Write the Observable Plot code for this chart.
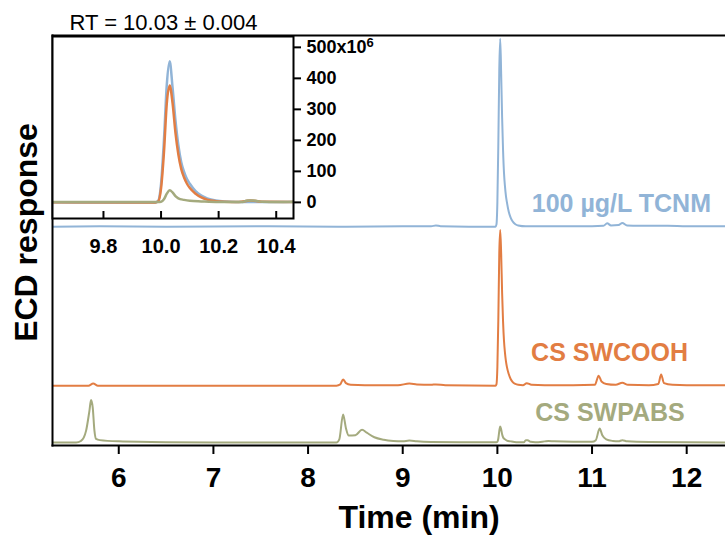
<!DOCTYPE html>
<html><head><meta charset="utf-8">
<script src="https://cdn.jsdelivr.net/npm/d3@7"></script>
<script src="https://cdn.jsdelivr.net/npm/@observablehq/plot@0.6"></script>
<style>
body{margin:0;background:#fff;}
#wrap{position:relative;width:725px;height:535px;font-family:"Liberation Sans",Arial,sans-serif;}
#wrap svg{position:absolute;left:0;top:0;}
</style></head><body><div id="wrap"></div>
<script>
// ---- data ----
const seriesNames = ["100 µg/L TCNM", "CS SWCOOH", "CS SWPABS"];
const seriesColors = ["#91b4d7", "#e27d43", "#a4aa7e"];
const seriesOffsets = [523, 138, 0];          // vertical stacking offset (response units, x10^6)
const labelTimes = [11.31, 11.185, 11.19];    // label centre (min)
const labelHeights = [56, 78, 72];            // label height above trace baseline
const xTicks = [6, 7, 8, 9, 10, 11, 12];
const insetXTicks = [9.8, 10.0, 10.2, 10.4];
const insetYTicks = [0, 100, 200, 300, 400, 500];
const insetTitle = "RT = 10.03 ± 0.004";

// [time (min), ECD response (x10^6)]
const tcnm = [[5.30,0],[5.80,1],[6.50,0],[7.50,1],[8.40,0],[9.00,1],[9.30,1],[9.35,3],[9.40,1],[9.70,0],[9.98,0],[9.99,5],[10.00,60],[10.01,200],[10.02,380],[10.03,455],[10.04,370],[10.05,265],[10.06,185],[10.07,130],[10.08,98],[10.09,75],[10.10,60],[10.12,36],[10.14,22],[10.16,13],[10.19,6],[10.22,3],[10.30,1],[10.50,1],[11.00,1],[11.12,2],[11.16,8],[11.20,3],[11.28,4],[11.32,9],[11.37,3],[11.50,2],[11.80,2],[12.00,1],[12.41,1]];
const swcooh = [[5.30,0],[5.68,0],[5.73,5],[5.78,0],[6.50,0],[7.50,0],[8.30,0],[8.34,3],[8.37,15],[8.40,6],[8.45,2],[8.60,1],[8.95,1],[9.07,5],[9.15,3],[9.30,2],[9.35,3],[9.45,1],[9.98,0],[9.99,3],[10.00,45],[10.01,160],[10.02,320],[10.03,377],[10.04,320],[10.05,225],[10.06,155],[10.07,108],[10.08,80],[10.09,60],[10.10,46],[10.12,28],[10.14,16],[10.16,9],[10.19,4],[10.22,2],[10.27,1],[10.31,6],[10.36,2],[10.50,1],[10.80,1],[11.03,2],[11.07,24],[11.10,10],[11.15,4],[11.25,2],[11.32,7],[11.38,2],[11.60,1],[11.70,4],[11.73,27],[11.76,6],[11.85,2],[12.00,1],[12.41,1]];
const swpabs = [[5.30,0],[5.55,0],[5.60,4],[5.63,12],[5.655,29],[5.69,77],[5.707,103],[5.725,85],[5.743,29],[5.76,9],[5.80,6],[6.00,3],[6.50,1],[7.00,0.5],[8.30,0.5],[8.33,8],[8.37,68],[8.40,35],[8.43,17],[8.50,18],[8.57,31],[8.62,24],[8.70,13],[8.80,7],[8.90,4],[9.00,3],[9.07,5],[9.15,3],[9.30,1.5],[9.60,1],[9.99,1],[10.00,2],[10.01,10],[10.02,28],[10.03,39],[10.04,32],[10.05,20],[10.06,13],[10.08,8],[10.10,5],[10.14,3],[10.20,1],[10.28,1],[10.30,6],[10.32,6],[10.35,2],[10.40,1],[10.50,3],[10.54,4],[10.60,3],[10.80,2],[11.00,2],[11.04,6],[11.08,34],[11.11,17],[11.15,8],[11.22,4],[11.28,3],[11.32,6],[11.37,3],[11.60,1.5],[12.00,1],[12.41,0.5]];
const traces = [tcnm, swcooh, swpabs];

// ---- build ----
const FONT = "Liberation Sans, Arial, Helvetica, sans-serif";
const mainLines = traces.map((tr, i) =>
  Plot.line(tr.map(([t, v]) => ({t, y: v + seriesOffsets[i]})),
    {x: "t", y: "y", stroke: seriesColors[i], strokeWidth: 2, curve: "monotone-x", clip: true}));
const labels = seriesNames.map((name, i) => ({name, t: labelTimes[i], y: seriesOffsets[i] + labelHeights[i], color: seriesColors[i]}));

const main = Plot.plot({
  width: 725, height: 535,
  marginLeft: 52, marginRight: 0, marginTop: 35, marginBottom: 90,
  style: {fontFamily: FONT, background: "transparent", overflow: "visible", color: "black"},
  x: {domain: [5.3, 12.41]},
  y: {domain: [-7, 986], axis: null},
  marks: [
    ...mainLines,
    ...labels.map(l => Plot.text([l], {x: "t", y: "y", text: "name", fill: l.color, fontSize: 25, fontWeight: "bold"})),
    Plot.axisX({ticks: xTicks, tickSize: 9, tickPadding: 13, fontSize: 28, fontWeight: "bold", strokeWidth: 2, label: null}),
    Plot.frame({anchor: "top", strokeWidth: 2}),
    Plot.frame({anchor: "left", strokeWidth: 2}),
    Plot.frame({anchor: "bottom", strokeWidth: 2}),
    Plot.text(["Time (min)"], {frameAnchor: "bottom", dx: 30, dy: 72, fontSize: 32, fontWeight: "bold", lineAnchor: "middle"}),
    Plot.text(["ECD response"], {frameAnchor: "left", dx: -26, dy: -8, rotate: -90, fontSize: 32, fontWeight: "bold", textAnchor: "middle"})
  ]
});

const insetLines = traces.map((tr, i) =>
  Plot.line(tr.map(([t, v]) => ({t, v})),
    {x: "t", y: "v", stroke: seriesColors[i], strokeWidth: 2.5, curve: "monotone-x", clip: true}));

const inset = Plot.plot({
  width: 380, height: 270,
  marginLeft: 52, marginRight: 87, marginTop: 36, marginBottom: 52,
  style: {fontFamily: FONT, background: "transparent", overflow: "visible", color: "black"},
  x: {domain: [9.623, 10.46]},
  y: {domain: [-52, 535]},
  marks: [
    Plot.frame({fill: "white", stroke: null}),
    ...insetLines,
    Plot.axisX({ticks: insetXTicks, tickFormat: d3.format(".1f"), tickSize: -7, tickPadding: 27, fontSize: 20, fontWeight: "bold", strokeWidth: 2, label: null}),
    Plot.axisY({anchor: "right", ticks: insetYTicks, tickFormat: d => d === 500 ? "500x10⁶" : String(d), tickSize: 7, tickPadding: 6, fontSize: 18, fontWeight: "bold", strokeWidth: 2, label: null}),
    Plot.frame({stroke: "black", strokeWidth: 2}),
    Plot.text([insetTitle], {frameAnchor: "top-left", dx: 17, dy: -14, fontSize: 22, textAnchor: "start", lineAnchor: "middle"})
  ]
});

// render the exponent as a real superscript
d3.select(inset).selectAll("text").filter(function() { return this.textContent === "500x10⁶"; })
  .each(function() {
    const t = d3.select(this);
    t.text("500x10");
    t.append("tspan").attr("dy", "-0.45em").attr("font-size", "13px").text("6");
  });

const wrap = document.getElementById("wrap");
wrap.appendChild(main);
wrap.appendChild(inset);
</script></body></html>
